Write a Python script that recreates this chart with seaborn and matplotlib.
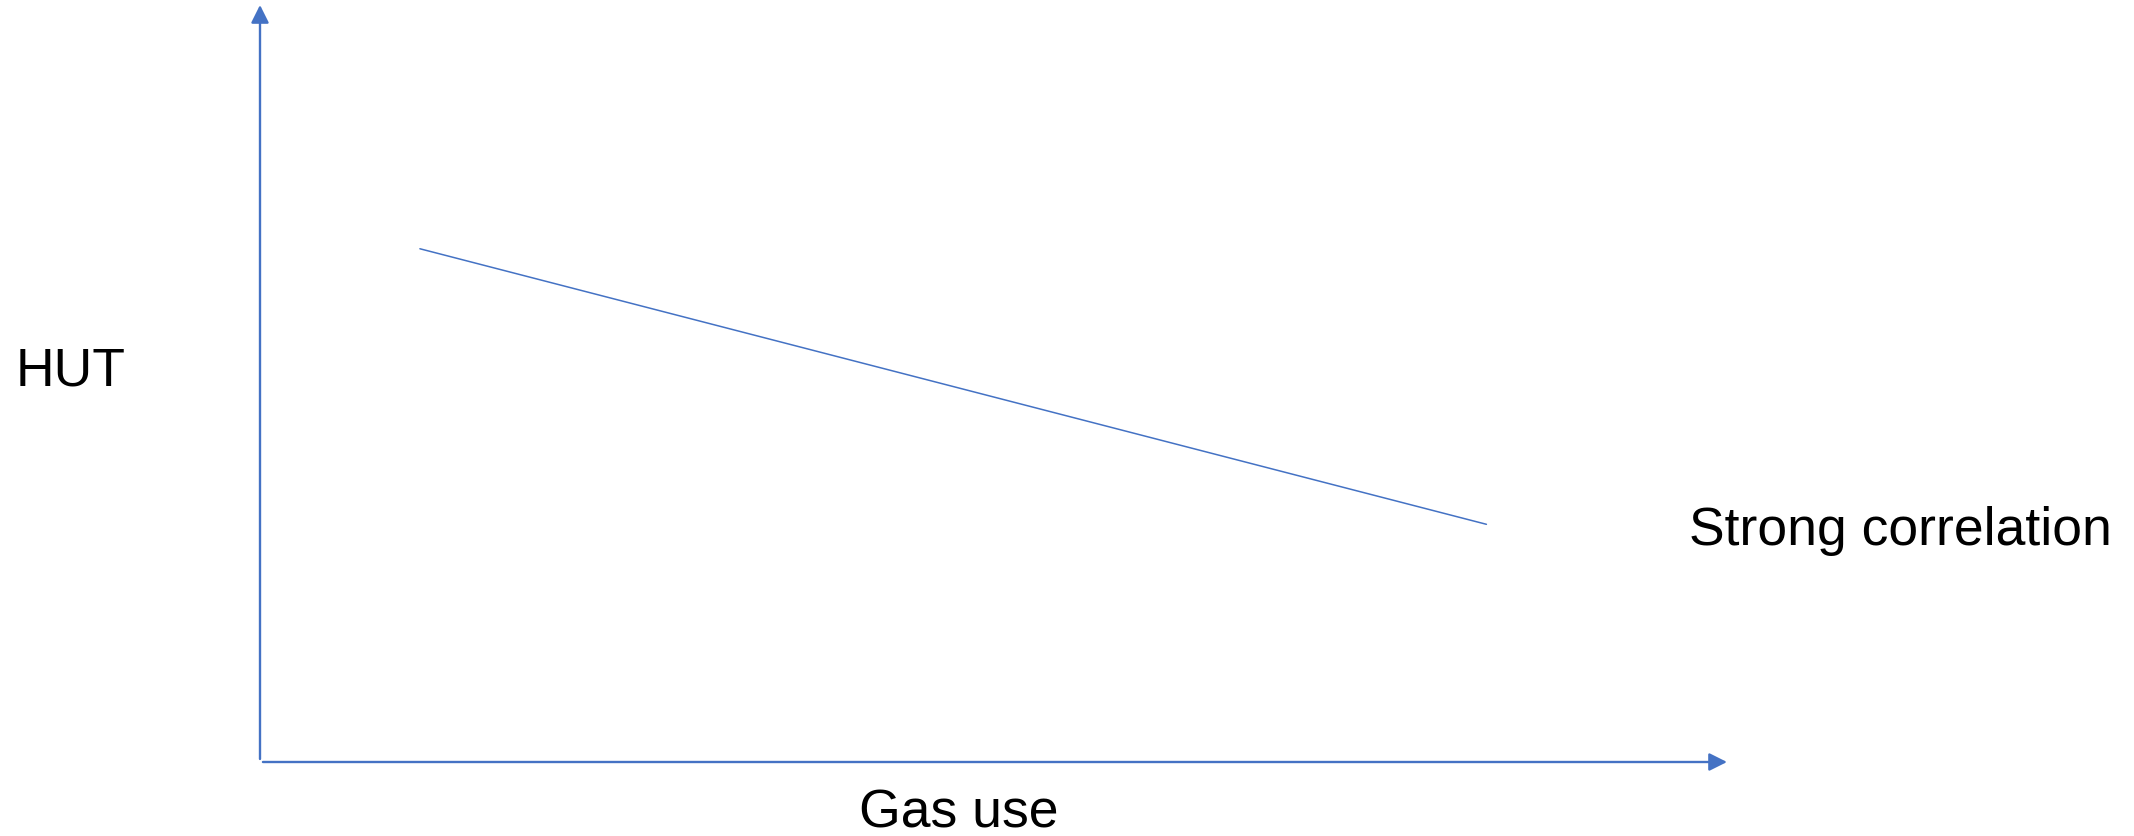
import matplotlib
matplotlib.use("Agg")
import seaborn as sns
import matplotlib.pyplot as plt

# Data (arbitrary units, axes run 0-100)
gas_use = [10.9, 83.6]
hut = [67.8, 31.4]

x_label = "Gas use"
y_label = "HUT"
note = "Strong correlation"

blue = "#4472C4"

sns.set_theme(style="white")
plt.rcParams["font.family"] = ["Liberation Sans", "DejaVu Sans"]

fig = plt.figure(figsize=(21.34, 8.36), dpi=100)
ax = fig.add_axes([260 / 2134, 74 / 836, 1467 / 2134, 757 / 836])

sns.lineplot(x=gas_use, y=hut, ax=ax, color=blue, linewidth=1.1)

ax.set_xlim(0, 100)
ax.set_ylim(0, 100)
ax.set_xticks([])
ax.set_yticks([])
for s in ax.spines.values():
    s.set_visible(False)

# axis arrows
arrow = dict(arrowstyle="-|>,head_length=0.4,head_width=0.2", color=blue,
             lw=1.7, mutation_scale=27, shrinkA=0, shrinkB=0)
ax.annotate("", xy=(1, 0), xytext=(0.002, 0), xycoords="axes fraction",
            arrowprops=arrow, annotation_clip=False)
ax.annotate("", xy=(0, 1), xytext=(0, 0.004), xycoords="axes fraction",
            arrowprops=arrow, annotation_clip=False)

# labels
fs = 38.5
fig.text(959 / 2134, 1 - 827 / 836, x_label, fontsize=fs, ha="center",
         va="baseline", color="black")
fig.text(16 / 2134, 1 - 385 / 836, y_label, fontsize=fs, ha="left",
         va="baseline", color="black")
fig.text(1689 / 2134, 1 - 545 / 836, note, fontsize=fs, ha="left",
         va="baseline", color="black")

fig.savefig("out.png", dpi=100)
